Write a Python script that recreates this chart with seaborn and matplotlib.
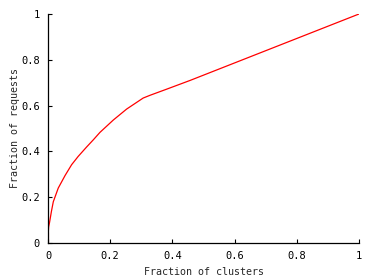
import matplotlib
matplotlib.use("Agg")
import matplotlib.pyplot as plt
import seaborn as sns
import pandas as pd

# fraction of clusters vs. cumulative fraction of requests
clusters = [0.0, 0.0, 0.002, 0.005, 0.011, 0.017, 0.033, 0.055, 0.076, 0.097,
            0.124, 0.146, 0.167, 0.21, 0.253, 0.306, 0.328, 0.382, 0.457, 1.0]
requests = [0.0, 0.05, 0.07, 0.09, 0.138, 0.18, 0.24, 0.295, 0.342, 0.378,
            0.419, 0.451, 0.483, 0.537, 0.585, 0.633, 0.645, 0.672, 0.71, 1.0]
ticks = [0, 0.2, 0.4, 0.6, 0.8, 1]
tick_labels = ["0", "0.2", "0.4", "0.6", "0.8", "1"]

df = pd.DataFrame({"clusters": clusters, "requests": requests})

sns.set_style("ticks")
plt.rcParams['font.family'] = 'DejaVu Sans Mono'

fig = plt.figure(figsize=(3.8, 2.8), dpi=100)
ax = fig.add_axes([48 / 380, 37 / 280, 311 / 380, 229 / 280])

sns.lineplot(data=df, x="clusters", y="requests", color="#ff0000",
             linewidth=0.9, sort=False, ax=ax)

ax.set_xlim(0, 1)
ax.set_ylim(0, 1)
ax.set_xticks(ticks)
ax.set_xticklabels(tick_labels)
ax.set_yticks(ticks)
ax.set_yticklabels(tick_labels)
ax.tick_params(direction="in", length=3, width=0.8, labelsize=7.5, pad=6, colors="black")
for side in ["top", "right"]:
    ax.spines[side].set_visible(False)
for side in ["left", "bottom"]:
    ax.spines[side].set_linewidth(0.9)
    ax.spines[side].set_color("black")

ax.set_xlabel("Fraction of clusters", fontsize=7.2, labelpad=4)
ax.set_ylabel("Fraction of requests", fontsize=7.2, labelpad=1)

fig.savefig("out.png", dpi=100)
